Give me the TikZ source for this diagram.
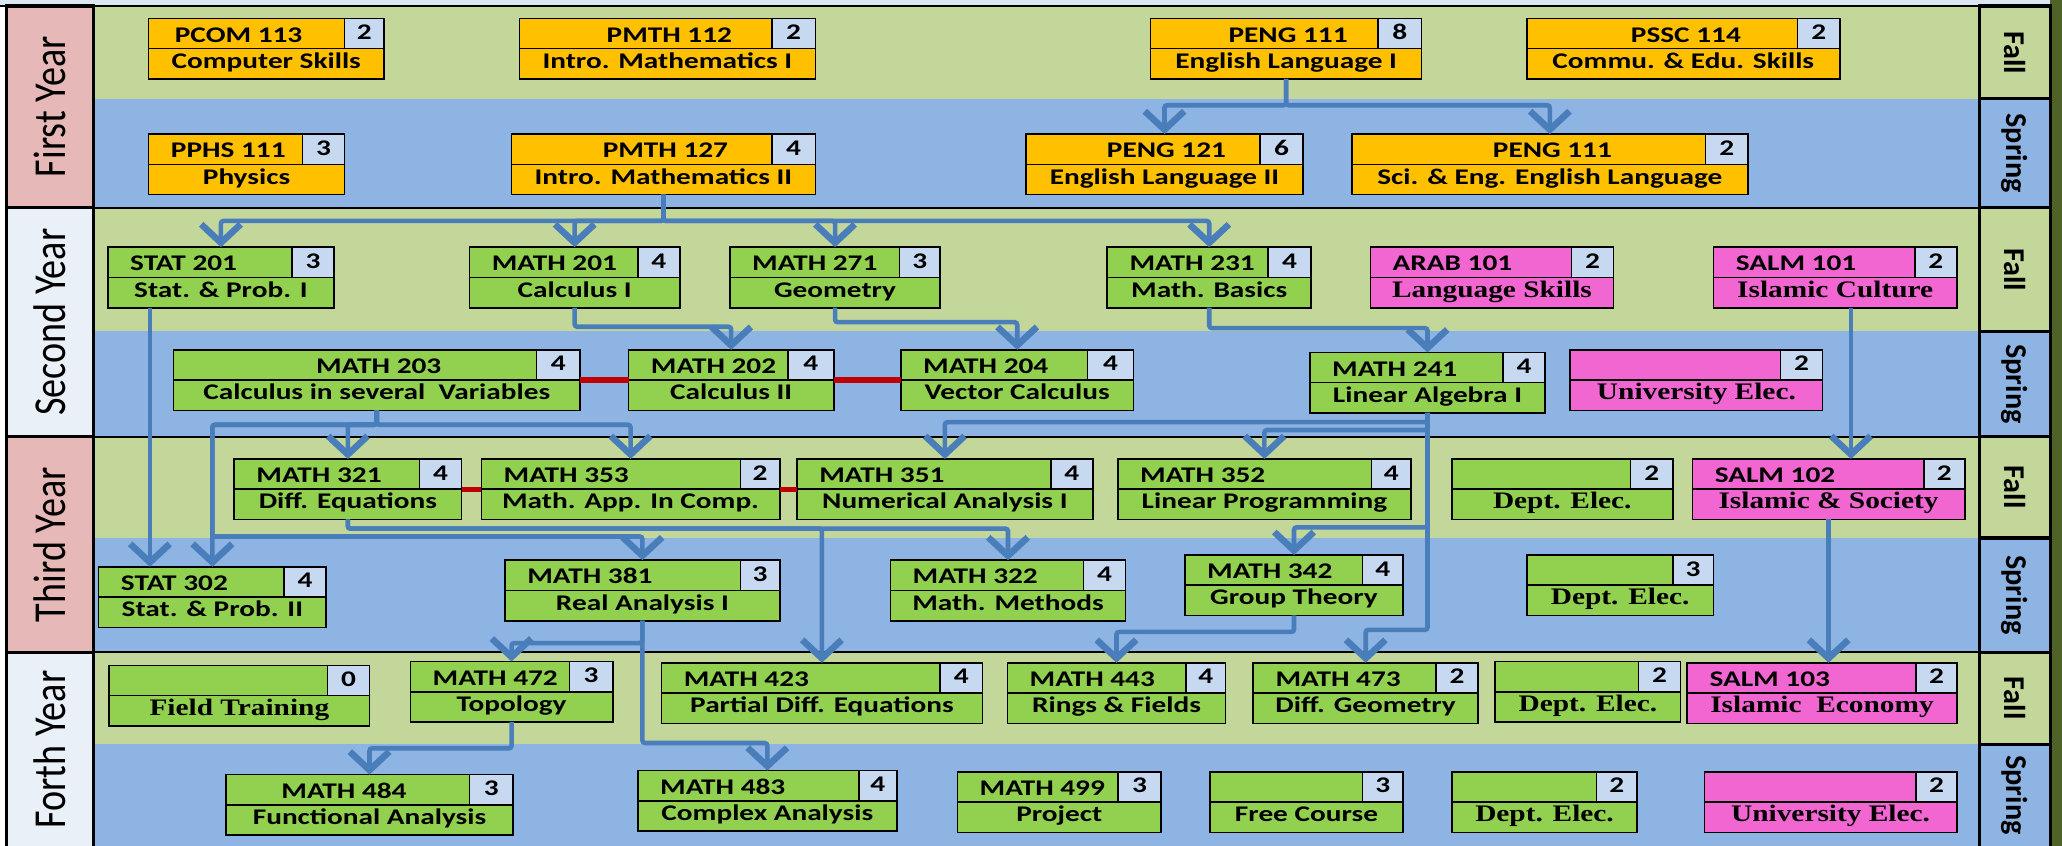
\documentclass[tikz,border=0pt]{standalone}
\usepackage{fontspec}
\usepackage{graphicx}
\usetikzlibrary{arrows.meta}
\newfontfamily\calfam{Carlito}[FakeStretch=1.31]
\newfontfamily\calplain{Carlito}
\newfontfamily\timesfam{Liberation Serif}[FakeStretch=1.24]
\newcommand{\calf}{\calfam\bfseries\fontsize{17}{19}\selectfont}
\newcommand{\timesf}{\timesfam\bfseries\fontsize{18}{20}\selectfont}
\newcommand{\shiftctr}[1]{\hfill\hspace{36pt}#1\hfill}

\definecolor{fallgreen}{RGB}{196,215,155}
\definecolor{springblue}{RGB}{141,180,226}
\definecolor{boxorange}{RGB}{255,192,0}
\definecolor{boxgreen}{RGB}{146,208,80}
\definecolor{boxpink}{RGB}{242,102,210}
\definecolor{credblue}{RGB}{198,217,241}
\definecolor{yearpink}{RGB}{230,184,183}
\definecolor{yearlight}{RGB}{234,240,248}
\definecolor{arrowblue}{RGB}{74,126,187}
\definecolor{linkred}{RGB}{192,0,0}
\definecolor{rimgreen}{RGB}{79,98,40}
\definecolor{toplight}{RGB}{220,230,241}

\tikzset{
cell/.style={ % one cell of a course box
draw=black, line width=1.2pt, inner sep=0pt, outer sep=0pt,
minimum height=23pt, anchor=north west, font=\calf,
text height=10pt, text depth=3pt},
codecell/.style={cell, fill=boxgreen, inner xsep=17pt, text height=13pt, text depth=0pt},
credcell/.style={cell, fill=credblue, text height=11pt, text depth=2pt},
titlecell/.style={cell, fill=boxgreen},
prereq/.style={ % prerequisite arrows
draw=arrowblue, line width=3.5pt, rounded corners=2pt,
-{Straight Barb[length=14pt, width=30pt, line width=5pt]}},
redlink/.style={draw=linkred, line width=4pt},
yearbox/.style={draw=black, line width=2.5pt},
yearlab/.style={rotate=90, font=\calplain\fontsize{29}{32}\selectfont},
semlab/.style={rotate=-90, font=\calplain\bfseries\fontsize{23}{25}\selectfont}}

% #1 options, #2 name, #3 left, #4 credit cell, #5 right, #6 top, #7 code, #8 credits, #9 title
\newcommand{\course}[9][]{%
\pgfmathsetmacro{\cw}{#4-#3}%
\pgfmathsetmacro{\ctw}{#4-#3-34}%
\pgfmathsetmacro{\nw}{#5-#4}%
\pgfmathsetmacro{\tw}{#5-#3}%
\node[codecell, #1, minimum width=\cw pt] (#2-c) at (#3,#6) {\makebox[\ctw pt][l]{#7}};
\node[credcell, minimum width=\nw pt] (#2-n) at (#4,#6) {#8};
\node[titlecell, #1, minimum width=\tw pt] (#2) at (#3,#6+23) {#9};
}

\begin{document}
\begin{tikzpicture}[x=1pt, y=-1pt]
\useasboundingbox (0,0) rectangle (1568,643);

% semester bands
\fill[toplight] (0,0) rectangle (1559,5);
\fill[fallgreen] (71,5) rectangle (1505,75);
\fill[springblue] (71,75) rectangle (1505,158);
\fill[fallgreen] (71,158) rectangle (1505,252);
\fill[springblue] (71,252) rectangle (1505,332);
\fill[fallgreen] (71,332) rectangle (1505,409);
\fill[springblue] (71,409) rectangle (1505,496);
\fill[fallgreen] (71,496) rectangle (1505,566);
\fill[springblue] (71,566) rectangle (1505,643);
\fill[rimgreen] (1559,0) rectangle (1568,643);
\draw[line width=1.2pt] (0,4.5) -- (1559,4.5);
\foreach \y in {158,332,496}
\draw[line width=1.5pt] (71,\y) -- (1505,\y);

% year column
\draw[yearbox, fill=yearpink] (5,4.5) rectangle (71,158);
\draw[yearbox, fill=yearlight] (5,158) rectangle (71,332);
\draw[yearbox, fill=yearpink] (5,332) rectangle (71,496);
\draw[yearbox, fill=yearlight] (5,496) rectangle (71,645);
\node[yearlab] (year1) at (38,81) {\scalebox{1}[1.2]{First Year}};
\node[yearlab] (year2) at (38,245) {\scalebox{1}[1.2]{Second Year}};
\node[yearlab] (year3) at (38,414) {\scalebox{1}[1.2]{Third Year}};
\node[yearlab] (year4) at (38,570) {\scalebox{1}[1.2]{Forth Year}};

% semester column
\foreach \ya/\yb/\col in {4.5/75/fallgreen, 75/158/springblue, 158/252/fallgreen, 252/332/springblue, 332/409/fallgreen, 409/496/springblue, 496/566/fallgreen, 566/645/springblue}
\draw[yearbox, fill=\col] (1505,\ya) rectangle (1559,\yb);
\node[semlab] (fall1) at (1532,40) {Fall};
\node[semlab] (spring1) at (1532,116.5) {Spring};
\node[semlab] (fall2) at (1532,205) {Fall};
\node[semlab] (spring2) at (1532,292) {Spring};
\node[semlab] (fall3) at (1532,370.5) {Fall};
\node[semlab] (spring3) at (1532,452.5) {Spring};
\node[semlab] (fall4) at (1532,531) {Fall};
\node[semlab] (spring4) at (1532,604.5) {Spring};

% first year
\course[fill=boxorange]{pcom113}{113}{262}{292}{14}{\hspace{3pt}PCOM 113}{2}{Computer Skills}
\course[fill=boxorange]{pmth112}{395}{587}{620}{14}{\shiftctr{PMTH 112}}{2}{Intro. Mathematics I}
\course[fill=boxorange]{peng111}{875}{1048}{1081}{14}{\shiftctr{PENG 111}}{8}{English Language I}
\course[fill=boxorange]{pssc114}{1161}{1367}{1399}{14}{\shiftctr{PSSC 114}}{2}{Commu. \& Edu. Skills}
\course[fill=boxorange]{pphs111}{113}{230}{262}{102}{PPHS 111}{3}{Physics}
\course[fill=boxorange]{pmth127}{389}{587}{620}{102}{\shiftctr{PMTH 127}}{4}{Intro. Mathematics II}
\course[fill=boxorange]{peng121}{780}{958}{991}{102}{\shiftctr{PENG 121}}{6}{English Language II}
\course[fill=boxorange]{peng111s}{1028}{1297}{1329}{102}{\shiftctr{PENG 111}}{2}{Sci. \& Eng. English Language}

% second year
\course{stat201}{82}{222}{254}{188}{STAT 201}{3}{Stat. \& Prob. I}
\course{math201}{357}{485}{517}{188}{MATH 201}{4}{Calculus I}
\course{math271}{555}{684}{715}{188}{MATH 271}{3}{Geometry}
\course{math231}{842}{964}{997}{188}{MATH 231}{4}{Math. Basics}
\course[fill=boxpink]{arab101}{1042}{1195}{1227}{188}{ARAB 101}{2}{\timesf Language Skills}
\course[fill=boxpink]{salm101}{1303}{1456}{1488}{188}{SALM 101}{2}{\timesf Islamic Culture}
\course{math203}{132}{408}{441}{266}{\shiftctr{MATH 203}}{4}{Calculus in several~ Variables}
\course{math202}{478}{599}{634}{266}{MATH 202}{4}{Calculus II}
\course{math204}{685}{827}{862}{266}{MATH 204}{4}{Vector Calculus}
\course{math241}{996}{1143}{1175}{268}{MATH 241}{4}{Linear Algebra I}
\course[fill=boxpink]{uelec2}{1194}{1354}{1386}{266}{}{2}{\timesf University Elec.}

% third year
\course{math321}{178}{319}{351}{349}{MATH 321}{4}{Diff. Equations}
\course{math353}{366}{563}{593}{349}{MATH 353}{2}{Math. App. In Comp.}
\course{math351}{606}{799}{831}{349}{MATH 351}{4}{Numerical Analysis I}
\course{math352}{850}{1043}{1073}{349}{MATH 352}{4}{Linear Programming}
\course{delec3f}{1104}{1240}{1272}{349}{}{2}{\timesf Dept. Elec.}
\course[fill=boxpink]{salm102}{1287}{1463}{1494}{349}{SALM 102}{2}{\timesf Islamic \& Society}
\course{stat302}{75}{216}{248}{431}{STAT 302}{4}{Stat. \& Prob. II}
\course{math381}{384}{563}{593}{426}{MATH 381}{3}{Real Analysis I}
\course{math322}{677}{824}{856}{426}{MATH 322}{4}{Math. Methods}
\course{math342}{901}{1036}{1067}{422}{MATH 342}{4}{Group Theory}
\course{delec3s}{1161}{1272}{1303}{422}{}{3}{\timesf Dept. Elec.}

% forth year
\course{ftrain}{83}{249}{281}{506}{}{0}{\timesf Field Training}
\course{math472}{312}{433}{466}{503}{MATH 472}{3}{Topology}
\course{math423}{503}{715}{747}{504}{MATH 423}{4}{Partial Diff. Equations}
\course{math443}{766}{902}{932}{504}{MATH 443}{4}{Rings \& Fields}
\course{math473}{953}{1092}{1124}{504}{MATH 473}{2}{Diff. Geometry}
\course{delec4f}{1137}{1246}{1278}{503}{}{2}{\timesf Dept. Elec.}
\course[fill=boxpink]{salm103}{1283}{1457}{1488}{504}{SALM 103}{2}{\timesf Islamic~ Economy}
\course{math484}{172}{357}{390}{589}{\hspace{25pt}MATH 484}{3}{Functional Analysis}
\course{math483}{485}{653}{682}{586}{MATH 483}{4}{Complex Analysis}
\course{math499}{728}{850}{883}{587}{MATH 499}{3}{Project}
\course{freec}{920}{1036}{1067}{587}{}{3}{Free Course}
\course{delec4s}{1104}{1214}{1245}{587}{}{2}{\timesf Dept. Elec.}
\course[fill=boxpink]{uelec4}{1296}{1457}{1488}{587}{}{2}{\timesf University Elec.}

% prerequisites
\draw[prereq] (peng111.south) -- ++(0,20) -| (peng121 |- peng121-c.north);
\draw[prereq] (peng111.south) -- ++(0,20) -| (peng111s |- peng111s-c.north);
\foreach \crs in {stat201,math201,math271,math231}
\draw[prereq] (pmth127.south) -- ++(0,20) -| (\crs |- \crs-c.north);
\draw[prereq] (math201.south) -- ++(0,14.5) -| (math202 |- math202-c.north);
\draw[prereq] (math271.south) -- ++(0,11) -| (math204 |- math204-c.north);
\draw[prereq] (math231.south) -- ++(0,15.5) -| (math241 |- math241-c.north);
\coordinate (salmdrop) at ([xshift=12pt]salm101.south);
\draw[prereq] (salmdrop) -- (salmdrop |- salm102-c.north);
\coordinate (statdrop) at ([xshift=-54pt]stat201.south);
\draw[prereq] (statdrop) -- (statdrop |- stat302-c.north);
\foreach \crs in {stat302,math321,math353}
\draw[prereq] (math203.south) -- ++(0,11) -| (\crs |- \crs-c.north);
\draw[prereq] (math203.south) -- ++(0,11) -| ++(-125,85) -| (math381 |- math381-c.north);
\draw[prereq] (math241.south) -- ++(0,7) -| (math351 |- math351-c.north);
\draw[prereq] (math241.south) -- ++(0,13) -| (math352 |- math352-c.north);
\draw[prereq] (math241.south) -- ++(0,87) -| (math342 |- math342-c.north);
\draw[prereq] (math241.south) -- ++(0,165) -| (math473 |- math473-c.north);
\draw[prereq] (math321.south) -- ++(0,7) -| (math322 |- math322-c.north);
\draw[prereq] (math321.south) -- ++(0,7) -| (math423 |- math423-c.north);
\draw[prereq] (salm102.south) -- (salm102.south |- salm103-c.north);
\draw[prereq] (math381.south) -- ++(0,17) -| (math472 |- math472-c.north);
\draw[prereq] (math381.south) -- ++(0,93) -| (math483 |- math483-c.north);
\draw[prereq] (math342.south) -- ++(0,12.5) -| (math443 |- math443-c.north);
\draw[prereq] (math472.south) -- ++(0,20) -| (math484 |- math484-c.north);

% co-requisites
\draw[redlink] (math203-n.south east) -- (math202-c.south west);
\draw[redlink] (math202-n.south east) -- (math204-c.south west);
\draw[redlink] (math321-n.south east) -- (math353-c.south west);
\draw[redlink] (math353-n.south east) -- (math351-c.south west);
\end{tikzpicture}
\end{document}
